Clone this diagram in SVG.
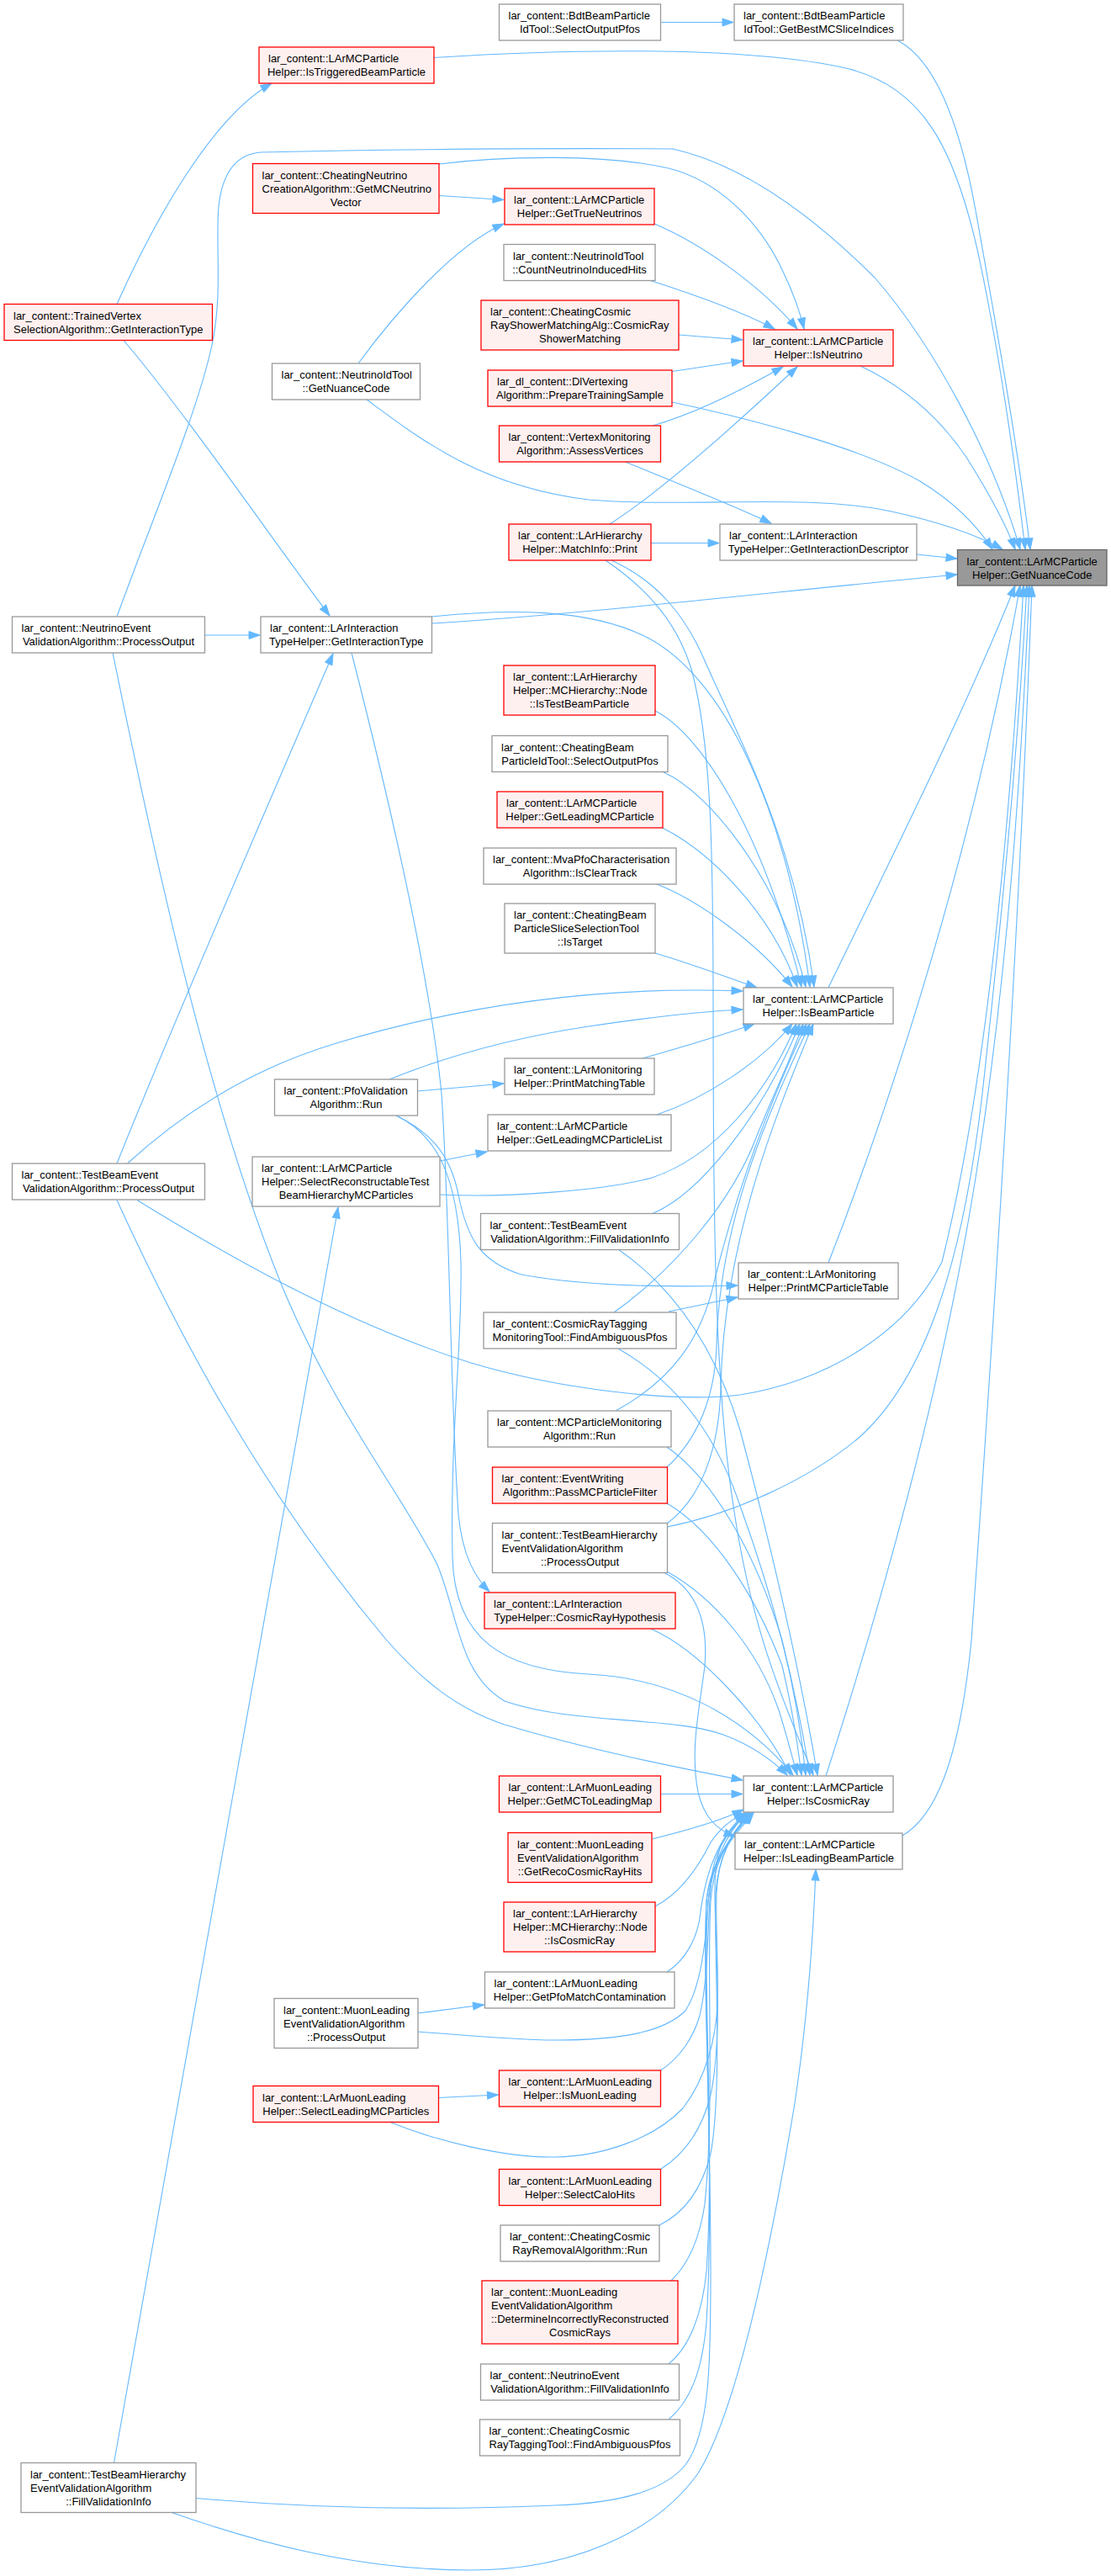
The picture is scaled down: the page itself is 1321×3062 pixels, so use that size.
<svg xmlns="http://www.w3.org/2000/svg" width="1321" height="3062" viewBox="0 0 1321 3062">
<style>
text{font-family:"Liberation Sans",Arial,Helvetica,sans-serif;font-size:13px;fill:#000}
.c{text-anchor:middle}
.nd{fill:#fff;stroke:#999;stroke-width:1.3}
.rd{fill:#fff0f0;stroke:#f00;stroke-width:1.3}
.rt{fill:#999;stroke:#666;stroke-width:1.3}
#edges path{fill:none;stroke:#63b8ff;stroke-width:1.1;marker-end:url(#a)}
</style>
<defs>
<marker id="a" markerUnits="userSpaceOnUse" markerWidth="14" markerHeight="10" refX="13" refY="5" orient="auto" overflow="visible"><path d="M0,0.5 L13,5 L0,9.5 z" fill="#63b8ff" stroke="#63b8ff" stroke-width="1"/></marker>
</defs>
<rect x="0" y="0" width="1321" height="3062" fill="#fff"/>
<g id="edges">
<path d="M785.5,26.5 L872,26.5"/>
<path d="M1067,48 C1110,70 1140,140 1160,250 C1185,390 1210,530 1225,653"/>
<path d="M516,68.5 C650,60 880,52 1010,82 C1095,105 1135,170 1165,310 C1190,430 1208,560 1219,653"/>
<path d="M139,733 C180,620 235,490 252,410 C265,350 256,290 260,245 C265,200 285,183 310,181 C450,178 650,176 800,177 C880,195 960,250 1040,330 C1110,410 1180,540 1213,653"/>
<path d="M522,195 C600,185 720,183 795,200 C855,215 905,265 932,325 C944,350 951,370 956,391"/>
<path d="M522,232.5 L599,237.5"/>
<path d="M426,432 C470,372 540,292 599,266"/>
<path d="M436,475 C500,522 570,578 700,594 C820,604 960,586 1060,608 C1115,620 1160,635 1192,653"/>
<path d="M778,266 C835,290 905,340 948,391"/>
<path d="M772,333 C825,350 885,372 921,391"/>
<path d="M807,398 L883,404"/>
<path d="M799,441.5 L883,429"/>
<path d="M776,506 C825,492 885,462 931,436"/>
<path d="M743.5,549 C800,572 870,600 917,622"/>
<path d="M725,623 C785,585 885,495 948,436"/>
<path d="M774,645.5 L855,645.5"/>
<path d="M1023,435 C1080,462 1120,500 1150,545 C1175,585 1195,620 1207,653"/>
<path d="M799,478 C880,495 1020,530 1094,572 C1130,594 1160,622 1180,653"/>
<path d="M1090,659 L1138,664"/>
<path d="M513.5,741 C700,730 950,700 1138,683"/>
<path d="M139,361.5 C180,270 250,140 323,99"/>
<path d="M146.5,404 C220,490 330,650 392,732"/>
<path d="M243.5,755 L309,755"/>
<path d="M139,1383 C200,1230 330,930 396,777"/>
<path d="M513.5,733 C600,724 700,722 770,758 C860,805 935,960 963,1173"/>
<path d="M727,666 C780,690 815,730 840,790 C880,880 945,1000 968,1173"/>
<path d="M720,666 C770,700 805,740 822,795 C845,880 848,1000 848,1200 C848,1450 850,1650 872,1790 C895,1950 940,2040 967,2110"/>
<path d="M418,776 C460,940 510,1150 525,1300 C535,1450 535,1650 545,1800 C550,1850 565,1875 582,1892"/>
<path d="M779,845 C830,870 905,980 953,1173"/>
<path d="M789,918 C840,940 925,1040 958,1173"/>
<path d="M787.5,984 C840,1010 915,1080 948,1173"/>
<path d="M781,1051 C830,1070 900,1120 942,1173"/>
<path d="M779,1133 C820,1145 860,1160 900,1174"/>
<path d="M151.5,1383 C220,1320 300,1270 400,1240 C560,1192 720,1172 883,1178"/>
<path d="M463,1283 C520,1260 600,1235 700,1220 C780,1208 840,1202 883,1200"/>
<path d="M496.5,1297 L599,1288"/>
<path d="M764,1258 C810,1245 860,1230 897,1217"/>
<path d="M781,1325 C840,1305 905,1262 942,1217"/>
<path d="M523,1380 L579,1369"/>
<path d="M523,1420 C600,1424 720,1415 775,1400 C850,1375 912,1300 947,1217"/>
<path d="M776,1442.5 C830,1420 905,1330 951,1217"/>
<path d="M730,1560 C800,1510 870,1430 900,1350 C920,1300 940,1260 955,1217"/>
<path d="M732,1677 C800,1640 835,1590 850,1520 C880,1400 920,1300 959,1217"/>
<path d="M793,1744 C830,1710 850,1660 852,1600 C855,1450 915,1320 963,1217"/>
<path d="M793,1811 C835,1780 855,1720 857,1650 C860,1480 920,1330 967,1217"/>
<path d="M985,1174 C1050,1040 1150,840 1207,696"/>
<path d="M471,1326 C510,1345 535,1370 545,1420 C555,1470 570,1500 620,1515 C700,1530 800,1530 877,1528"/>
<path d="M795,1559 L877,1542"/>
<path d="M985,1501 C1040,1360 1150,1050 1213,696"/>
<path d="M163,1426.5 C250,1480 400,1570 560,1620 C660,1650 800,1668 880,1658 C990,1640 1080,1580 1120,1500 C1170,1300 1200,1000 1217,696"/>
<path d="M793,1815 C870,1800 960,1760 1020,1710 C1100,1640 1145,1500 1168,1300 C1190,1100 1210,900 1221,696"/>
<path d="M982,2111 C1050,1900 1120,1650 1160,1400 C1200,1150 1215,900 1224,696"/>
<path d="M1073,2182 C1110,2160 1140,2100 1155,1950 C1180,1600 1212,1100 1227,696"/>
<path d="M473,1327 C520,1350 545,1400 548,1500 C550,1600 535,1700 538,1850 C540,1950 600,1985 700,1990 C800,1995 885,2040 943,2110"/>
<path d="M134,776 C170,950 240,1300 340,1540 C400,1680 480,1780 520,1860 C545,1920 545,1990 600,2022 C680,2050 800,2040 860,2062 C895,2075 918,2092 936,2110"/>
<path d="M139,1426.5 C200,1560 300,1760 460,1950 C500,1995 540,2030 600,2050 C700,2080 800,2100 883,2116"/>
<path d="M785.5,2132.5 L883,2132.5"/>
<path d="M735,1603 C800,1640 850,1700 880,1790 C920,1900 945,2000 963,2110"/>
<path d="M793,1720 C850,1760 900,1850 930,1950 C945,2010 953,2060 958,2110"/>
<path d="M793,1787 C850,1820 900,1900 930,1980 C942,2030 948,2070 953,2110"/>
<path d="M793,1868 C850,1900 900,1960 925,2030 C935,2060 942,2090 948,2110"/>
<path d="M773.5,1936 C830,1960 905,2040 940,2110"/>
<path d="M735,1485 C800,1530 850,1600 880,1700 C920,1850 950,1980 972,2110"/>
<path d="M790,1869.5 C830,1890 842,1930 838,1980 C832,2030 820,2080 830,2130 C837,2160 852,2175 874,2183"/>
<path d="M775,2186 C820,2175 860,2163 884,2151"/>
<path d="M779,2266 C810,2250 830,2220 845,2190 C855,2175 868,2163 886,2155"/>
<path d="M793,2344 C815,2330 828,2305 832,2280 C838,2230 852,2185 887,2155"/>
<path d="M497,2415 C560,2420 620,2425 660,2425 C740,2425 790,2415 815,2390 C835,2360 840,2300 842,2260 C846,2220 862,2180 888,2155"/>
<path d="M785.5,2461 C810,2445 825,2420 832,2396 C845,2340 840,2260 848,2220 C855,2190 870,2172 889,2155"/>
<path d="M465,2523 C520,2545 600,2565 660,2564 C720,2563 780,2540 812,2506 C840,2470 852,2420 853,2380 C855,2300 842,2230 858,2192 C866,2176 878,2165 890,2155"/>
<path d="M785.5,2578.5 C815,2560 835,2530 845,2490 C860,2420 850,2300 852,2250 C854,2205 870,2178 891,2155"/>
<path d="M784,2645 C815,2630 835,2600 845,2560 C860,2480 848,2300 851,2250 C854,2205 872,2178 892,2155"/>
<path d="M798,2711 C820,2690 832,2660 838,2620 C850,2500 840,2350 845,2260 C848,2212 870,2178 893,2155"/>
<path d="M795,2810 C820,2790 835,2750 840,2700 C850,2550 835,2350 842,2260 C846,2212 870,2180 894,2155"/>
<path d="M795,2876 C820,2855 835,2820 840,2760 C850,2600 835,2350 840,2260 C844,2212 870,2182 895,2155"/>
<path d="M233,2969.5 C350,2980 500,2985 660,2978 C740,2975 790,2960 815,2930 C845,2890 845,2800 845,2700 C845,2500 835,2350 840,2260 C845,2210 872,2184 896,2155"/>
<path d="M204,2986.5 C300,3020 420,3055 560,3055 C680,3055 780,3010 830,2940 C880,2860 920,2650 945,2500 C960,2400 967,2300 970,2222"/>
<path d="M135.5,2927.5 C190,2620 340,1780 402,1435"/>
<path d="M497,2393 L575.5,2383"/>
<path d="M521.5,2493.5 L592.5,2490"/>
</g>
<g id="n-R"><rect class="rt" x="1138.5" y="653.5" width="177.5" height="42.5"/><text x="1149.5" y="671.5">lar_content::LArMCParticle</text><text class="c" x="1227.25" y="687.5">Helper::GetNuanceCode</text></g>
<g id="n-A1"><rect class="nd" x="873" y="5" width="201" height="43"/><text x="884" y="23">lar_content::BdtBeamParticle</text><text class="c" x="973.5" y="39">IdTool::GetBestMCSliceIndices</text></g>
<g id="n-A2"><rect class="rd" x="884" y="392" width="178" height="43"/><text x="895" y="410">lar_content::LArMCParticle</text><text class="c" x="973" y="426">Helper::IsNeutrino</text></g>
<g id="n-A3"><rect class="nd" x="856" y="623" width="234" height="43"/><text x="867" y="641">lar_content::LArInteraction</text><text class="c" x="973" y="657">TypeHelper::GetInteractionDescriptor</text></g>
<g id="n-A4"><rect class="nd" x="884" y="1174" width="178" height="43"/><text x="895" y="1192">lar_content::LArMCParticle</text><text class="c" x="973" y="1208">Helper::IsBeamParticle</text></g>
<g id="n-A5"><rect class="nd" x="878" y="1501" width="190" height="43"/><text x="889" y="1519">lar_content::LArMonitoring</text><text class="c" x="973" y="1535">Helper::PrintMCParticleTable</text></g>
<g id="n-A6"><rect class="nd" x="884" y="2111" width="178" height="43"/><text x="895" y="2129">lar_content::LArMCParticle</text><text class="c" x="973" y="2145">Helper::IsCosmicRay</text></g>
<g id="n-A7"><rect class="nd" x="874" y="2179" width="199" height="43"/><text x="885" y="2197">lar_content::LArMCParticle</text><text class="c" x="973.5" y="2213">Helper::IsLeadingBeamParticle</text></g>
<g id="n-B1"><rect class="nd" x="593.5" y="5" width="192" height="43"/><text x="604.5" y="23">lar_content::BdtBeamParticle</text><text class="c" x="689.5" y="39">IdTool::SelectOutputPfos</text></g>
<g id="n-B2"><rect class="rd" x="600" y="224" width="178" height="43"/><text x="611" y="242">lar_content::LArMCParticle</text><text class="c" x="689" y="258">Helper::GetTrueNeutrinos</text></g>
<g id="n-B3"><rect class="nd" x="599" y="290.5" width="180" height="43"/><text x="610" y="308.5">lar_content::NeutrinoIdTool</text><text class="c" x="689" y="324.5">::CountNeutrinoInducedHits</text></g>
<g id="n-B4"><rect class="rd" x="572" y="357" width="235" height="59"/><text x="583" y="375">lar_content::CheatingCosmic</text><text x="583" y="391">RayShowerMatchingAlg::CosmicRay</text><text class="c" x="689.5" y="407">ShowerMatching</text></g>
<g id="n-B5"><rect class="rd" x="580" y="440" width="219" height="43"/><text x="591" y="458">lar_dl_content::DlVertexing</text><text class="c" x="689.5" y="474">Algorithm::PrepareTrainingSample</text></g>
<g id="n-B6"><rect class="rd" x="593.5" y="506" width="192" height="43"/><text x="604.5" y="524">lar_content::VertexMonitoring</text><text class="c" x="689.5" y="540">Algorithm::AssessVertices</text></g>
<g id="n-B7"><rect class="rd" x="605" y="623" width="169" height="43"/><text x="616" y="641">lar_content::LArHierarchy</text><text class="c" x="689.5" y="657">Helper::MatchInfo::Print</text></g>
<g id="n-B8"><rect class="rd" x="599" y="791" width="180" height="59"/><text x="610" y="809">lar_content::LArHierarchy</text><text x="610" y="825">Helper::MCHierarchy::Node</text><text class="c" x="689" y="841">::IsTestBeamParticle</text></g>
<g id="n-B9"><rect class="nd" x="585" y="874.5" width="209" height="43"/><text x="596" y="892.5">lar_content::CheatingBeam</text><text class="c" x="689.5" y="908.5">ParticleIdTool::SelectOutputPfos</text></g>
<g id="n-B10"><rect class="rd" x="591" y="941" width="197" height="43"/><text x="602" y="959">lar_content::LArMCParticle</text><text class="c" x="689.5" y="975">Helper::GetLeadingMCParticle</text></g>
<g id="n-B11"><rect class="nd" x="575" y="1008" width="229" height="43"/><text x="586" y="1026">lar_content::MvaPfoCharacterisation</text><text class="c" x="689.5" y="1042">Algorithm::IsClearTrack</text></g>
<g id="n-B12"><rect class="nd" x="600" y="1074" width="179" height="59"/><text x="611" y="1092">lar_content::CheatingBeam</text><text x="611" y="1108">ParticleSliceSelectionTool</text><text class="c" x="689.5" y="1124">::IsTarget</text></g>
<g id="n-B13"><rect class="nd" x="600" y="1258" width="178" height="43"/><text x="611" y="1276">lar_content::LArMonitoring</text><text class="c" x="689" y="1292">Helper::PrintMatchingTable</text></g>
<g id="n-B14"><rect class="nd" x="580" y="1325" width="218" height="43"/><text x="591" y="1343">lar_content::LArMCParticle</text><text class="c" x="689" y="1359">Helper::GetLeadingMCParticleList</text></g>
<g id="n-B15"><rect class="nd" x="571.5" y="1442.5" width="236" height="43"/><text x="582.5" y="1460.5">lar_content::TestBeamEvent</text><text class="c" x="689.5" y="1476.5">ValidationAlgorithm::FillValidationInfo</text></g>
<g id="n-B16"><rect class="nd" x="575" y="1560" width="229" height="43"/><text x="586" y="1578">lar_content::CosmicRayTagging</text><text class="c" x="689.5" y="1594">MonitoringTool::FindAmbiguousPfos</text></g>
<g id="n-B17"><rect class="nd" x="580" y="1677" width="218" height="43"/><text x="591" y="1695">lar_content::MCParticleMonitoring</text><text class="c" x="689" y="1711">Algorithm::Run</text></g>
<g id="n-B18"><rect class="rd" x="585.5" y="1744" width="208" height="43"/><text x="596.5" y="1762">lar_content::EventWriting</text><text class="c" x="689.5" y="1778">Algorithm::PassMCParticleFilter</text></g>
<g id="n-B19"><rect class="nd" x="585.5" y="1810.5" width="208" height="59"/><text x="596.5" y="1828.5">lar_content::TestBeamHierarchy</text><text x="596.5" y="1844.5">EventValidationAlgorithm</text><text class="c" x="689.5" y="1860.5">::ProcessOutput</text></g>
<g id="n-B20"><rect class="rd" x="576" y="1893" width="227" height="43"/><text x="587" y="1911">lar_content::LArInteraction</text><text class="c" x="689.5" y="1927">TypeHelper::CosmicRayHypothesis</text></g>
<g id="n-B21"><rect class="rd" x="593.5" y="2111" width="192" height="43"/><text x="604.5" y="2129">lar_content::LArMuonLeading</text><text class="c" x="689.5" y="2145">Helper::GetMCToLeadingMap</text></g>
<g id="n-B22"><rect class="rd" x="604" y="2178.5" width="171" height="59"/><text x="615" y="2196.5">lar_content::MuonLeading</text><text x="615" y="2212.5">EventValidationAlgorithm</text><text class="c" x="689.5" y="2228.5">::GetRecoCosmicRayHits</text></g>
<g id="n-B23"><rect class="rd" x="599" y="2261" width="180" height="59"/><text x="610" y="2279">lar_content::LArHierarchy</text><text x="610" y="2295">Helper::MCHierarchy::Node</text><text class="c" x="689" y="2311">::IsCosmicRay</text></g>
<g id="n-B24"><rect class="nd" x="576.5" y="2344" width="225.5" height="43"/><text x="587.5" y="2362">lar_content::LArMuonLeading</text><text class="c" x="689.25" y="2378">Helper::GetPfoMatchContamination</text></g>
<g id="n-B25"><rect class="rd" x="593.5" y="2461" width="192" height="43"/><text x="604.5" y="2479">lar_content::LArMuonLeading</text><text class="c" x="689.5" y="2495">Helper::IsMuonLeading</text></g>
<g id="n-B26"><rect class="rd" x="593.5" y="2578.5" width="192" height="43"/><text x="604.5" y="2596.5">lar_content::LArMuonLeading</text><text class="c" x="689.5" y="2612.5">Helper::SelectCaloHits</text></g>
<g id="n-B27"><rect class="nd" x="595" y="2645" width="189" height="43"/><text x="606" y="2663">lar_content::CheatingCosmic</text><text class="c" x="689.5" y="2679">RayRemovalAlgorithm::Run</text></g>
<g id="n-B28"><rect class="rd" x="573" y="2711" width="233" height="75"/><text x="584" y="2729">lar_content::MuonLeading</text><text x="584" y="2745">EventValidationAlgorithm</text><text x="584" y="2761">::DetermineIncorrectlyReconstructed</text><text class="c" x="689.5" y="2777">CosmicRays</text></g>
<g id="n-B29"><rect class="nd" x="571.5" y="2810" width="236" height="43"/><text x="582.5" y="2828">lar_content::NeutrinoEvent</text><text class="c" x="689.5" y="2844">ValidationAlgorithm::FillValidationInfo</text></g>
<g id="n-B30"><rect class="nd" x="570.5" y="2876" width="238" height="43"/><text x="581.5" y="2894">lar_content::CheatingCosmic</text><text class="c" x="689.5" y="2910">RayTaggingTool::FindAmbiguousPfos</text></g>
<g id="n-C1"><rect class="rd" x="308" y="56" width="208" height="43"/><text x="319" y="74">lar_content::LArMCParticle</text><text class="c" x="412" y="90">Helper::IsTriggeredBeamParticle</text></g>
<g id="n-C2"><rect class="rd" x="300.5" y="194.5" width="221.5" height="59"/><text x="311.5" y="212.5">lar_content::CheatingNeutrino</text><text x="311.5" y="228.5">CreationAlgorithm::GetMCNeutrino</text><text class="c" x="411.25" y="244.5">Vector</text></g>
<g id="n-C3"><rect class="nd" x="323.5" y="432" width="176" height="43"/><text x="334.5" y="450">lar_content::NeutrinoIdTool</text><text class="c" x="411.5" y="466">::GetNuanceCode</text></g>
<g id="n-C4"><rect class="nd" x="310" y="733" width="203.5" height="43"/><text x="321" y="751">lar_content::LArInteraction</text><text class="c" x="411.75" y="767">TypeHelper::GetInteractionType</text></g>
<g id="n-C5"><rect class="nd" x="326.5" y="1283" width="170" height="43"/><text x="337.5" y="1301">lar_content::PfoValidation</text><text class="c" x="411.5" y="1317">Algorithm::Run</text></g>
<g id="n-C6"><rect class="nd" x="300" y="1375" width="223" height="59"/><text x="311" y="1393">lar_content::LArMCParticle</text><text x="311" y="1409">Helper::SelectReconstructableTest</text><text class="c" x="411.5" y="1425">BeamHierarchyMCParticles</text></g>
<g id="n-C7"><rect class="nd" x="326" y="2375.5" width="171" height="59"/><text x="337" y="2393.5">lar_content::MuonLeading</text><text x="337" y="2409.5">EventValidationAlgorithm</text><text class="c" x="411.5" y="2425.5">::ProcessOutput</text></g>
<g id="n-C8"><rect class="rd" x="301" y="2479.5" width="220.5" height="43"/><text x="312" y="2497.5">lar_content::LArMuonLeading</text><text class="c" x="411.25" y="2513.5">Helper::SelectLeadingMCParticles</text></g>
<g id="n-D1"><rect class="rd" x="5" y="361.5" width="247.5" height="43"/><text x="16" y="379.5">lar_content::TrainedVertex</text><text class="c" x="128.75" y="395.5">SelectionAlgorithm::GetInteractionType</text></g>
<g id="n-D2"><rect class="nd" x="14.5" y="733" width="229" height="43"/><text x="25.5" y="751">lar_content::NeutrinoEvent</text><text class="c" x="129" y="767">ValidationAlgorithm::ProcessOutput</text></g>
<g id="n-D3"><rect class="nd" x="14.5" y="1383" width="229" height="43"/><text x="25.5" y="1401">lar_content::TestBeamEvent</text><text class="c" x="129" y="1417">ValidationAlgorithm::ProcessOutput</text></g>
<g id="n-D4"><rect class="nd" x="25" y="2927.5" width="208" height="59"/><text x="36" y="2945.5">lar_content::TestBeamHierarchy</text><text x="36" y="2961.5">EventValidationAlgorithm</text><text class="c" x="129" y="2977.5">::FillValidationInfo</text></g>
</svg>
